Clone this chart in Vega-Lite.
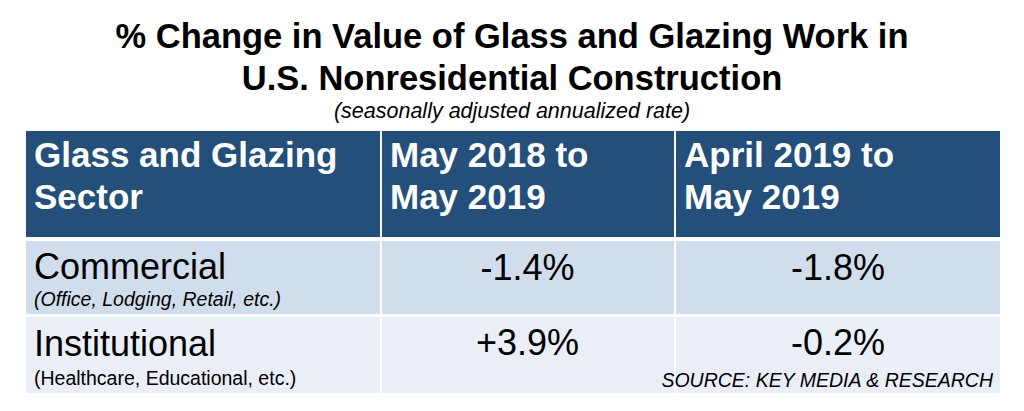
{
  "$schema": "https://vega.github.io/schema/vega-lite/v6.json",
  "width": 1024,
  "height": 411,
  "autosize": {"type": "fit", "contains": "padding"},
  "padding": 0,
  "background": "white",
  "config": {"view": {"stroke": null}, "text": {"font": "Liberation Sans"}},
  "datasets": {
    "cells": [
      {"row": "header", "col": "Glass and Glazing Sector", "x0": 26, "x1": 380, "y0": 131, "y1": 237},
      {"row": "header", "col": "May 2018 to May 2019", "x0": 382, "x1": 674, "y0": 131, "y1": 237},
      {"row": "header", "col": "April 2019 to May 2019", "x0": 676, "x1": 1000, "y0": 131, "y1": 237},
      {"row": "Commercial", "col": "Glass and Glazing Sector", "x0": 26, "x1": 380, "y0": 241, "y1": 314},
      {"row": "Commercial", "col": "May 2018 to May 2019", "x0": 382, "x1": 674, "y0": 241, "y1": 314},
      {"row": "Commercial", "col": "April 2019 to May 2019", "x0": 676, "x1": 1000, "y0": 241, "y1": 314},
      {"row": "Institutional", "col": "Glass and Glazing Sector", "x0": 26, "x1": 380, "y0": 317, "y1": 393},
      {"row": "Institutional", "col": "May 2018 to May 2019", "x0": 382, "x1": 674, "y0": 317, "y1": 393},
      {"row": "Institutional", "col": "April 2019 to May 2019", "x0": 676, "x1": 1000, "y0": 317, "y1": 393}
    ],
    "title": [
      {"text": "% Change in Value of Glass and Glazing Work in", "x": 512, "y": 48},
      {"text": "U.S. Nonresidential Construction", "x": 512, "y": 90}
    ],
    "subtitle": [
      {"text": "(seasonally adjusted annualized rate)", "x": 512, "y": 118}
    ],
    "header": [
      {"text": "Glass and Glazing", "x": 34, "y": 167},
      {"text": "Sector", "x": 34, "y": 209},
      {"text": "May 2018 to", "x": 390, "y": 167},
      {"text": "May 2019", "x": 390, "y": 209},
      {"text": "April 2019 to", "x": 684, "y": 167},
      {"text": "May 2019", "x": 684, "y": 209}
    ],
    "sectors": [
      {"text": "Commercial", "x": 34, "y": 279},
      {"text": "Institutional", "x": 34, "y": 356}
    ],
    "notes": [
      {"sector": "Commercial", "text": "(Office, Lodging, Retail, etc.)", "x": 34, "y": 306},
      {"sector": "Institutional", "text": "(Healthcare, Educational, etc.)", "x": 34, "y": 385}
    ],
    "values": [
      {"sector": "Commercial", "period": "May 2018 to May 2019", "change": -1.4, "text": "-1.4%", "x": 527.5, "y": 280},
      {"sector": "Commercial", "period": "April 2019 to May 2019", "change": -1.8, "text": "-1.8%", "x": 838, "y": 280},
      {"sector": "Institutional", "period": "May 2018 to May 2019", "change": 3.9, "text": "+3.9%", "x": 527.5, "y": 355},
      {"sector": "Institutional", "period": "April 2019 to May 2019", "change": -0.2, "text": "-0.2%", "x": 838, "y": 355}
    ],
    "source": [
      {"text": "SOURCE: KEY MEDIA & RESEARCH", "x": 993, "y": 387}
    ]
  },
  "layer": [
    {
      "data": {"name": "cells"},
      "mark": {"type": "rect"},
      "encoding": {
        "x": {"field": "x0", "type": "quantitative", "scale": {"domain": [0, 1024], "nice": false, "zero": false}, "axis": null},
        "x2": {"field": "x1"},
        "y": {"field": "y0", "type": "quantitative", "scale": {"domain": [0, 411], "nice": false, "zero": false, "reverse": true}, "axis": null},
        "y2": {"field": "y1"},
        "color": {"field": "row", "type": "nominal", "scale": {"domain": ["header", "Commercial", "Institutional"], "range": ["#234f7a", "#d0ddec", "#e9eef7"]}, "legend": null}
      }
    },
    {
      "data": {"name": "title"},
      "mark": {"type": "text", "fontSize": 34.5, "fontWeight": "bold", "align": "center", "baseline": "alphabetic", "color": "black"},
      "encoding": {
        "x": {"field": "x", "type": "quantitative"},
        "y": {"field": "y", "type": "quantitative"},
        "text": {"field": "text"}
      }
    },
    {
      "data": {"name": "subtitle"},
      "mark": {"type": "text", "fontSize": 21.5, "fontStyle": "italic", "align": "center", "baseline": "alphabetic", "color": "black"},
      "encoding": {
        "x": {"field": "x", "type": "quantitative"},
        "y": {"field": "y", "type": "quantitative"},
        "text": {"field": "text"}
      }
    },
    {
      "data": {"name": "header"},
      "mark": {"type": "text", "fontSize": 35, "fontWeight": "bold", "align": "left", "baseline": "alphabetic", "color": "white"},
      "encoding": {
        "x": {"field": "x", "type": "quantitative"},
        "y": {"field": "y", "type": "quantitative"},
        "text": {"field": "text"}
      }
    },
    {
      "data": {"name": "sectors"},
      "mark": {"type": "text", "fontSize": 36, "align": "left", "baseline": "alphabetic", "color": "black"},
      "encoding": {
        "x": {"field": "x", "type": "quantitative"},
        "y": {"field": "y", "type": "quantitative"},
        "text": {"field": "text"}
      }
    },
    {
      "data": {"name": "notes"},
      "transform": [{"filter": "datum.sector === 'Commercial'"}],
      "mark": {"type": "text", "fontSize": 19.5, "fontStyle": "italic", "align": "left", "baseline": "alphabetic", "color": "black"},
      "encoding": {
        "x": {"field": "x", "type": "quantitative"},
        "y": {"field": "y", "type": "quantitative"},
        "text": {"field": "text"}
      }
    },
    {
      "data": {"name": "notes"},
      "transform": [{"filter": "datum.sector === 'Institutional'"}],
      "mark": {"type": "text", "fontSize": 19.5, "align": "left", "baseline": "alphabetic", "color": "black"},
      "encoding": {
        "x": {"field": "x", "type": "quantitative"},
        "y": {"field": "y", "type": "quantitative"},
        "text": {"field": "text"}
      }
    },
    {
      "data": {"name": "values"},
      "mark": {"type": "text", "fontSize": 36, "align": "center", "baseline": "alphabetic", "color": "black"},
      "encoding": {
        "x": {"field": "x", "type": "quantitative"},
        "y": {"field": "y", "type": "quantitative"},
        "text": {"field": "text"}
      }
    },
    {
      "data": {"name": "source"},
      "mark": {"type": "text", "fontSize": 19.5, "fontStyle": "italic", "align": "right", "baseline": "alphabetic", "color": "black"},
      "encoding": {
        "x": {"field": "x", "type": "quantitative"},
        "y": {"field": "y", "type": "quantitative"},
        "text": {"field": "text"}
      }
    }
  ]
}
